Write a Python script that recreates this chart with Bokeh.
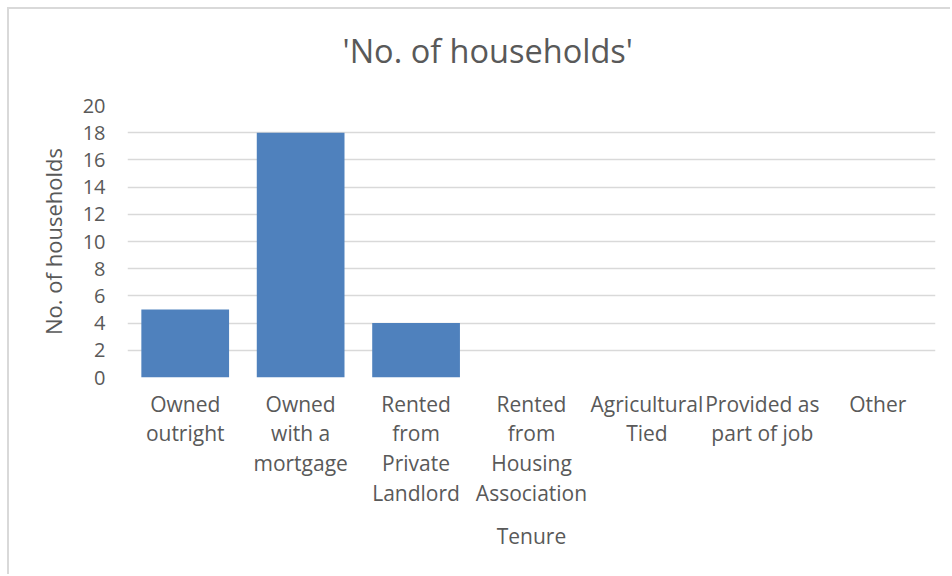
from bokeh.plotting import figure
from bokeh.models import ColumnDataSource, FactorRange, Range1d, FixedTicker, Title
from bokeh.embed import file_html
from bokeh.resources import INLINE

categories = ["Owned\noutright", "Owned\nwith a\nmortgage", "Rented\nfrom\nPrivate\nLandlord",
              "Rented\nfrom\nHousing\nAssociation", "Agricultural\nTied",
              "Provided as\npart of job", "Other"]
households = [5, 18, 4, 0, 0, 0, 0]
y_ticks = [0, 2, 4, 6, 8, 10, 12, 14, 16, 18, 20]
chart_title = "'No. of households'"

FONT = "Open Sans"
TXT = "#595959"
GRID = "#d9d9d9"

src = ColumnDataSource(data=dict(cat=categories, val=households))

p = figure(width=943, height=567, x_range=FactorRange(*categories), y_range=Range1d(0, 20),
           output_backend="svg", toolbar_location=None, title=None,
           min_border_left=118, min_border_right=17, min_border_top=96, min_border_bottom=199)
p.styles = {"margin-left": "7px", "margin-top": "7px",
            "border-top": f"2px solid {GRID}", "border-left": f"2px solid {GRID}"}

p.vbar(x="cat", top="val", source=src, width=0.76, fill_color="#4f81bd", line_color=None)

# empty spacer between the frame and the title
spacer = Title(text=" ", text_font_size="1px", standoff=30)
p.add_layout(spacer, "above")
main_title = Title(text=chart_title, text_font=FONT, text_font_size="32.5px",
                   text_font_style="normal", text_color=TXT, align="left",
                   offset=215, standoff=0)
p.add_layout(main_title, "above")

p.outline_line_color = None
p.background_fill_color = "white"
p.border_fill_color = "white"

p.xgrid.grid_line_color = None
p.ygrid.grid_line_color = GRID
p.ygrid.grid_line_width = 1.5
p.yaxis.ticker = FixedTicker(ticks=y_ticks)

for ax in (p.xaxis[0], p.yaxis[0]):
    ax.axis_line_color = None
    ax.major_tick_line_color = None
    ax.minor_tick_line_color = None
    ax.major_tick_out = 0
    ax.major_tick_in = 0
    ax.minor_tick_out = 0
    ax.major_label_text_font = FONT
    ax.major_label_text_color = TXT
    ax.axis_label_text_font = FONT
    ax.axis_label_text_font_style = "normal"
    ax.axis_label_text_color = TXT

p.xaxis.major_label_text_font_size = "21px"
p.xaxis.major_label_text_line_height = 1.06
p.xaxis.major_label_standoff = 12
p.xaxis.axis_label = "Tenure"
p.xaxis.axis_label_text_font_size = "21px"
p.xaxis.axis_label_standoff = 12

p.yaxis.major_label_text_font_size = "20px"
p.yaxis.major_label_standoff = 22
p.yaxis.axis_label = "No. of households"
p.yaxis.axis_label_text_font_size = "22px"
p.yaxis.axis_label_standoff = 12

open("out.html", "w").write(file_html(p, INLINE))
